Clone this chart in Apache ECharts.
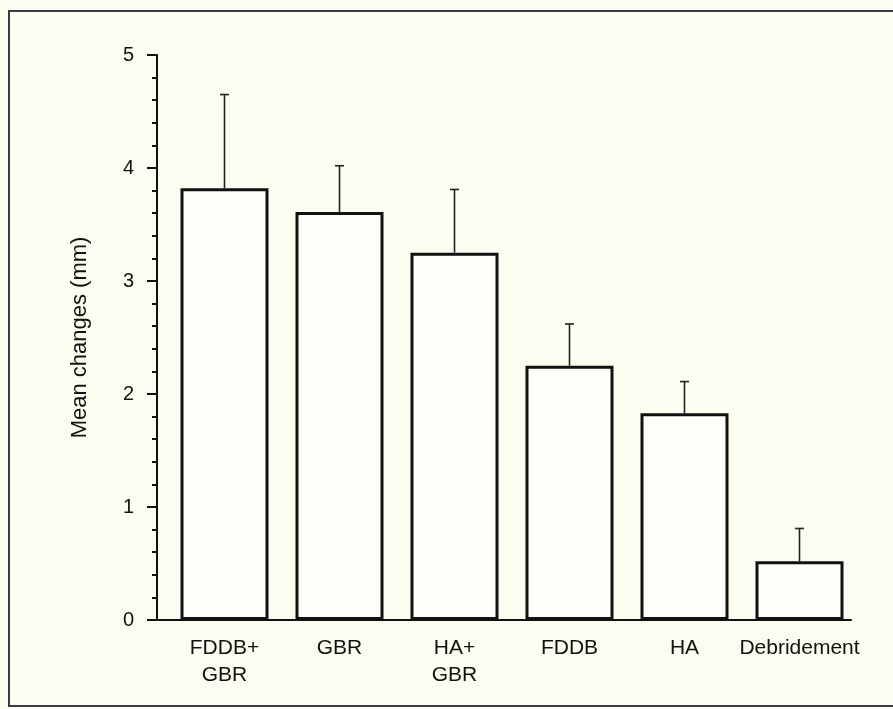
<!DOCTYPE html>
<html>
<head>
<meta charset="utf-8">
<script src="https://cdn.jsdelivr.net/npm/echarts@6/dist/echarts.min.js"></script>
<style>
html,body{margin:0;padding:0;background:#fdfcf1;}
#c{width:893px;height:709px;}
</style>
</head>
<body>
<div id="c"></div>
<script>
var categories = ['FDDB+\nGBR', 'GBR', 'HA+\nGBR', 'FDDB', 'HA', 'Debridement'];
var meanValues = [3.82, 3.61, 3.25, 2.25, 1.83, 0.52];
var errorTops = [4.65, 4.02, 3.81, 2.62, 2.11, 0.81];
var yTicks = [0, 1, 2, 3, 4, 5];

var font = 'Liberation Sans, Arial, Helvetica, sans-serif';
var chart = echarts.init(document.getElementById('c'));

var errData = categories.map(function (c, i) { return [i, meanValues[i], errorTops[i]]; });

chart.setOption({
  backgroundColor: '#fdfcf1',
  animation: false,
  graphic: [{
    type: 'rect',
    shape: { x: 9, y: 11, width: 900, height: 695 },
    style: { fill: 'none', stroke: '#3b3b48', lineWidth: 2 },
    silent: true
  }],
  grid: [
    { left: 167, right: 36, top: 55, bottom: 89 },
    { left: 148, right: 42, top: 55, bottom: 89 }
  ],
  xAxis: [{
    type: 'category',
    gridIndex: 0,
    data: categories,
    axisLine: { show: false },
    axisTick: { show: false },
    axisLabel: {
      interval: 0,
      color: '#111', fontFamily: font, fontSize: 21, lineHeight: 27, margin: 15
    }
  }, {
    type: 'value',
    gridIndex: 1,
    min: 0, max: 1,
    axisLine: { show: true, lineStyle: { color: '#111', width: 2 } },
    axisTick: { show: false },
    axisLabel: { show: false },
    splitLine: { show: false }
  }],
  yAxis: [{
    type: 'value',
    gridIndex: 0,
    min: yTicks[0], max: yTicks[yTicks.length - 1], interval: 1,
    offset: 10,
    name: 'Mean changes (mm)',
    nameLocation: 'middle',
    nameGap: 66,
    nameTextStyle: { color: '#111', fontFamily: font, fontSize: 22 },
    axisLine: { show: true, lineStyle: { color: '#111', width: 2 } },
    axisTick: { show: true, inside: false, length: 10, lineStyle: { color: '#111', width: 2 } },
    minorTick: { show: true, splitNumber: 5, length: 5, lineStyle: { color: '#111', width: 2 } },
    axisLabel: { color: '#111', fontFamily: font, fontSize: 20, margin: 23 },
    splitLine: { show: false }
  }, {
    type: 'value',
    gridIndex: 1,
    show: false,
    min: 0, max: 1
  }],
  series: [{
    type: 'bar',
    xAxisIndex: 0, yAxisIndex: 0,
    data: meanValues,
    barWidth: 88,
    itemStyle: { color: '#fefef8', borderColor: '#111', borderWidth: 3 },
    z: 2
  }, {
    type: 'custom',
    xAxisIndex: 0, yAxisIndex: 0,
    data: errData,
    z: 1,
    renderItem: function (params, api) {
      var x = api.value(0);
      var p0 = api.coord([x, api.value(1)]);
      var p1 = api.coord([x, api.value(2)]);
      var style = { stroke: '#222', lineWidth: 1.6 };
      return {
        type: 'group',
        children: [
          { type: 'line', shape: { x1: p0[0], y1: p0[1], x2: p1[0], y2: p1[1] }, style: style },
          { type: 'line', shape: { x1: p1[0] - 4.5, y1: p1[1], x2: p1[0] + 4.5, y2: p1[1] }, style: style }
        ]
      };
    }
  }]
});
</script>
</body>
</html>
